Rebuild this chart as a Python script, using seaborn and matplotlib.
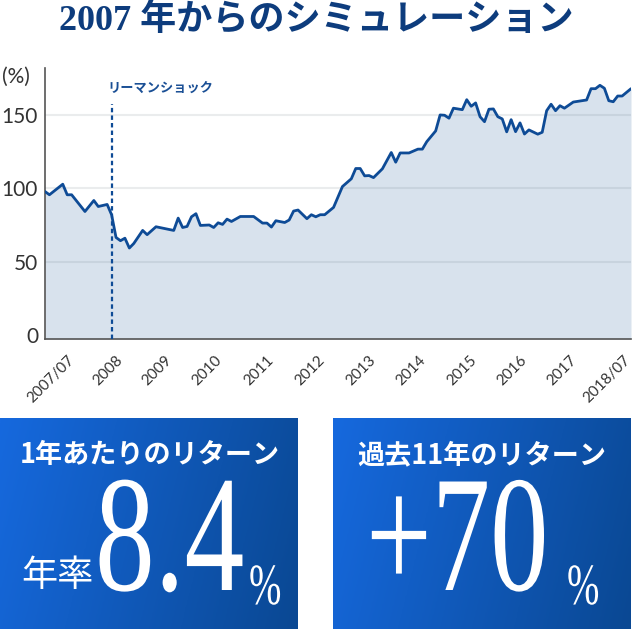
import numpy as np
import pandas as pd
import matplotlib
matplotlib.use("Agg")
import matplotlib.pyplot as plt
import seaborn as sns
from matplotlib.colors import LinearSegmentedColormap
from matplotlib.patheffects import AbstractPathEffect
from matplotlib.transforms import Affine2D

# ---------------- data ----------------
DATES = [
    "2007-07", "2007-08", "2007-11", "2007-12", "2008-01", "2008-04", "2008-06", "2008-07",
    "2008-09", "2008-10", "2008-11", "2008-12", "2009-01", "2009-02", "2009-03", "2009-05",
    "2009-06", "2009-08", "2009-12", "2010-01", "2010-02", "2010-03", "2010-04", "2010-05",
    "2010-06", "2010-08", "2010-09", "2010-10", "2010-11", "2010-12", "2011-01", "2011-03",
    "2011-06", "2011-08", "2011-09", "2011-10", "2011-11", "2012-01", "2012-02", "2012-03",
    "2012-04", "2012-06", "2012-07", "2012-08", "2012-09", "2012-10", "2012-12", "2013-02",
    "2013-04", "2013-05", "2013-06", "2013-07", "2013-08", "2013-09", "2013-11", "2014-01",
    "2014-02", "2014-03", "2014-05", "2014-07", "2014-08", "2014-09", "2014-11", "2014-12",
    "2015-01", "2015-02", "2015-03", "2015-05", "2015-06", "2015-07", "2015-08", "2015-09",
    "2015-10", "2015-11", "2015-12", "2016-01", "2016-02", "2016-03", "2016-04", "2016-05",
    "2016-06", "2016-07", "2016-08", "2016-10", "2016-11", "2016-12", "2017-01", "2017-02",
    "2017-03", "2017-04", "2017-06", "2017-09", "2017-10", "2017-11", "2017-12", "2018-01",
    "2018-02", "2018-03", "2018-04", "2018-05", "2018-07",
]
VALUES = [
    97.8, 95.6, 102.8, 95.6, 95.6, 84.2, 91.7, 87.6,
    89.0, 82.0, 66.5, 64.3, 66.0, 59.3, 62.4, 71.3,
    68.4, 73.8, 71.3, 79.7, 73.3, 74.0, 80.6, 82.7,
    74.7, 75.0, 73.3, 76.5, 75.4, 79.0, 77.4, 80.8,
    80.8, 76.3, 76.3, 73.6, 77.9, 76.7, 78.4, 84.5,
    85.2, 79.3, 82.0, 80.6, 82.0, 82.0, 87.0, 101.2,
    106.5, 113.5, 113.5, 108.5, 108.7, 107.3, 113.3, 124.4,
    117.8, 124.1, 124.1, 126.7, 126.7, 131.8, 139.1, 150.0,
    149.8, 147.8, 154.6, 153.6, 160.4, 155.9, 158.2, 148.8,
    145.4, 153.9, 154.1, 148.8, 147.3, 138.5, 146.8, 138.6,
    144.6, 137.0, 139.8, 136.9, 138.2, 152.9, 157.3, 152.9,
    156.3, 154.6, 158.8, 160.2, 167.9, 167.9, 170.2, 168.2,
    159.7, 159.0, 162.9, 162.9, 167.9,
]

X_TICK_LABELS = ["2007/07", "2008", "2009", "2010", "2011", "2012", "2013",
                 "2014", "2015", "2016", "2017", "2018/07"]
Y_TICKS = [0, 50, 100, 150]
LEHMAN_DATE = "2008-10"
LEHMAN_LABEL = "リーマンショック"
TITLE = "2007 年からのシミュレーション"
BOX1_TITLE, BOX1_PREFIX, BOX1_VALUE = "1年あたりのリターン", "年率", "8.4"
BOX2_TITLE, BOX2_VALUE = "過去11年のリターン", "+70"

# ---------------- layout / style ----------------
TICK_POS = [5, 15.8, 27, 38.3, 50, 61.3, 73, 84.2, 95.7, 107, 118.2, 130.2]
LINE_C = "#0e4b96"
FILL_C = "#d8e2ed"
TITLE_C = "#0d3c7d"
TXT_C = "#333333"

sns.set_theme(style="white")
plt.rcParams["font.family"] = ["Lato", "Noto Sans CJK JP", "DejaVu Sans"]


class Stretch(AbstractPathEffect):
    """Draw text glyphs scaled about their baseline origin (tall, condensed look)."""
    def __init__(self, sx=1.0, sy=1.0):
        super().__init__()
        self.sx, self.sy = sx, sy

    def draw_path(self, renderer, gc, tpath, affine, rgbFace=None):
        m = affine.get_matrix()
        x0, y0 = m[0, 2], m[1, 2]
        new = affine + Affine2D().translate(-x0, -y0).scale(self.sx, self.sy).translate(x0, y0)
        renderer.draw_path(gc, tpath, new, rgbFace)


def month_index(d):
    t = pd.to_datetime(d)
    return (t.year - 2007) * 12 + (t.month - 7)


df = pd.DataFrame({"m": [month_index(d) for d in DATES], "v": VALUES})

W, H = 632, 629
fig = plt.figure(figsize=(W / 100, H / 100), dpi=100)

# overlay for boxes & title
ov = fig.add_axes([0, 0, 1, 1])
ov.axis("off")

cmap = LinearSegmentedColormap.from_list("g", ["#1669de", "#0a4893"])
Xg, Yg = np.meshgrid(np.linspace(0, 1, 200), np.linspace(0, 1, 100))
G = 0.85 * Xg + 0.15 * Yg
for (x0, x1) in [(0, 298), (333, 631)]:
    ov.imshow(G, extent=(x0, x1, H, 418), cmap=cmap, aspect="auto", origin="upper",
              interpolation="bilinear")
ov.set_xlim(0, W)
ov.set_ylim(H, 0)

jp = ["Noto Sans CJK JP", "DejaVu Sans"]
serif = ["Liberation Serif", "DejaVu Serif"]

ov.text(316, 21, TITLE, ha="center", va="center", fontsize=26, weight="bold",
        color=TITLE_C, family=["Liberation Serif", "Noto Sans CJK JP"])
ov.text(2, 77, "(%)", ha="left", va="center", fontsize=15, color=TXT_C)

ov.text(150, 455, BOX1_TITLE, ha="center", va="center", fontsize=19.5, weight="bold",
        color="white", family=jp)
ov.text(21, 576, BOX1_PREFIX, ha="left", va="center", fontsize=26, color="white", family=jp)
ov.text(95, 590, BOX1_VALUE, ha="left", va="baseline", fontsize=86, color="white",
        family=serif, path_effects=[Stretch(1.0, 1.39)])
ov.text(249, 604, "%", ha="left", va="baseline", fontsize=28, color="white",
        family=serif, path_effects=[Stretch(1.0, 1.5)])

ov.text(482, 455, BOX2_TITLE, ha="center", va="center", fontsize=19.5, weight="bold",
        color="white", family=jp)
ov.text(366, 590, BOX2_VALUE, ha="left", va="baseline", fontsize=84, color="white",
        family=serif, path_effects=[Stretch(1.0, 1.42)])
ov.text(567, 604, "%", ha="left", va="baseline", fontsize=28, color="white",
        family=serif, path_effects=[Stretch(1.0, 1.5)])

# main chart
ax = fig.add_axes([45 / W, 1 - 339 / H, 586 / W, (339 - 68) / H])
ymin, ymax = -2.7, 182
ax.fill_between(df["m"], df["v"], ymin, color=FILL_C, lw=0, zorder=1)
for yv in Y_TICKS[1:]:
    ax.axhline(yv, color=(0.45, 0.5, 0.55), alpha=0.15, lw=1.5, zorder=2)
sns.lineplot(data=df, x="m", y="v", ax=ax, color=LINE_C, lw=2.0, zorder=3)
ax.set_xlim(0, 132)
ax.set_ylim(ymin, ymax)

lx = month_index(LEHMAN_DATE)
ax.plot([lx, lx], [ymin, 157.5], color=LINE_C, lw=1.6, ls=(0, (2.0, 1.4)), zorder=4)
ax.text(lx - 1.0, 168.3, LEHMAN_LABEL, ha="left", va="center", fontsize=9.5,
        weight="bold", color="#1a4f95", family=jp)

ax.set_xlabel("")
ax.set_ylabel("")
ax.set_yticks(Y_TICKS)
ax.set_yticklabels([str(v) for v in Y_TICKS], fontsize=15, color=TXT_C)
ax.set_xticks(TICK_POS)
ax.set_xticklabels(X_TICK_LABELS, fontsize=11, color=TXT_C, rotation=45,
                   ha="right", va="top", rotation_mode="anchor")
ax.tick_params(axis="x", length=0, pad=10)
ax.tick_params(axis="y", length=0, pad=5)
for s in ["top", "right"]:
    ax.spines[s].set_visible(False)
for s in ["left", "bottom"]:
    ax.spines[s].set_color("#555555")
    ax.spines[s].set_linewidth(1.2)
ax.patch.set_alpha(0)
ax.grid(False)

fig.savefig("out.png", dpi=100)
